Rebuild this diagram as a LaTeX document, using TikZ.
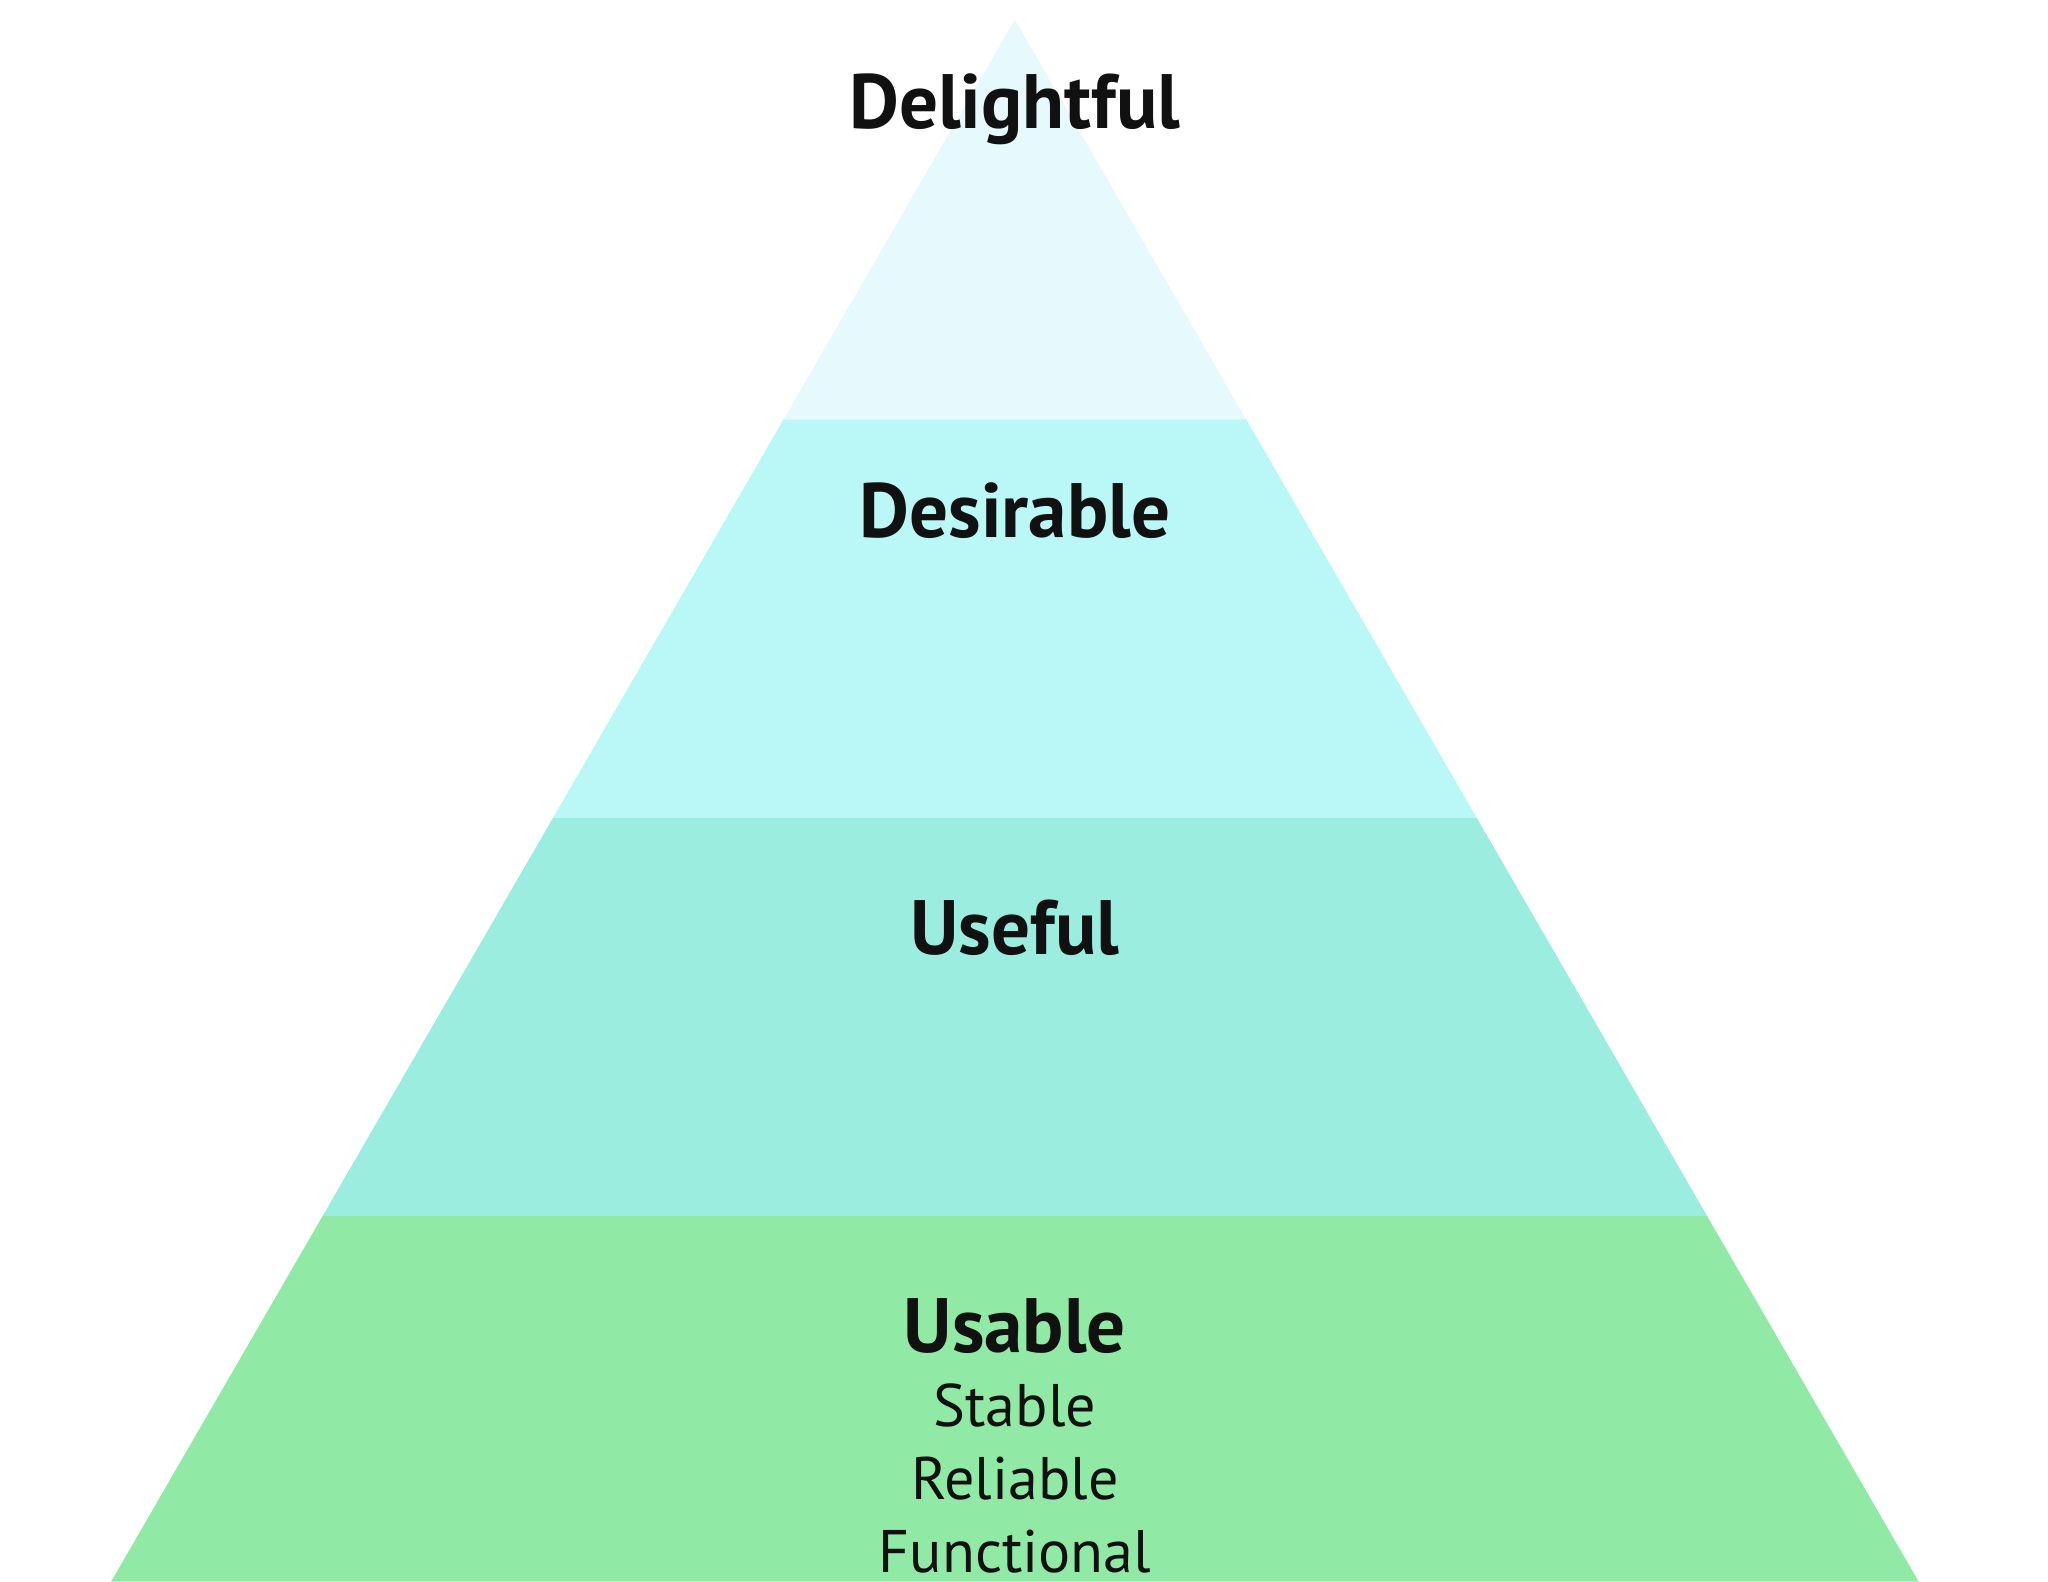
\documentclass[tikz,border=0pt]{standalone}
\usepackage{fontspec}
\setmainfont{PT Sans}
\definecolor{c1}{HTML}{E6F9FC}
\definecolor{c2}{HTML}{BAF8F7}
\definecolor{c3}{HTML}{9AEDDF}
\definecolor{c4}{HTML}{90EAA6}
\definecolor{tx}{HTML}{111111}
\begin{document}
\begin{tikzpicture}[x=0.5pt,y=-0.5pt,
  big/.style={font=\fontsize{29.5}{33}\selectfont\bfseries,text=tx},
  small/.style={font=\fontsize{23}{26}\selectfont,text=tx}]
\useasboundingbox (0,0) rectangle (1568,1211);
\def\sl{0.5786}
\coordinate (apex) at (777,15);
\fill[c1] (777,15) -- ({777-\sl*306},321) -- ({777+\sl*306},321) -- cycle;
\fill[c2] ({777-\sl*306},321) -- ({777+\sl*306},321) -- ({777+\sl*611},626) -- ({777-\sl*611},626) -- cycle;
\fill[c3] ({777-\sl*611},626) -- ({777+\sl*611},626) -- ({777+\sl*916},931) -- ({777-\sl*916},931) -- cycle;
\fill[c4] ({777-\sl*916},931) -- ({777+\sl*916},931) -- ({777+\sl*1196},1211) -- ({777-\sl*1196},1211) -- cycle;
\node[big] (d1) at (777,84) {Delightful};
\node[big] (d2) at (777,391) {Desirable};
\node[big] (d3) at (777,710) {Useful};
\node[big] (d4) at (777,1015) {Usable};
\node[small] (s1) at (777,1076) {Stable};
\node[small] (s2) at (777,1132) {Reliable};
\node[small] (s3) at (777,1188) {Functional};
\end{tikzpicture}
\end{document}
